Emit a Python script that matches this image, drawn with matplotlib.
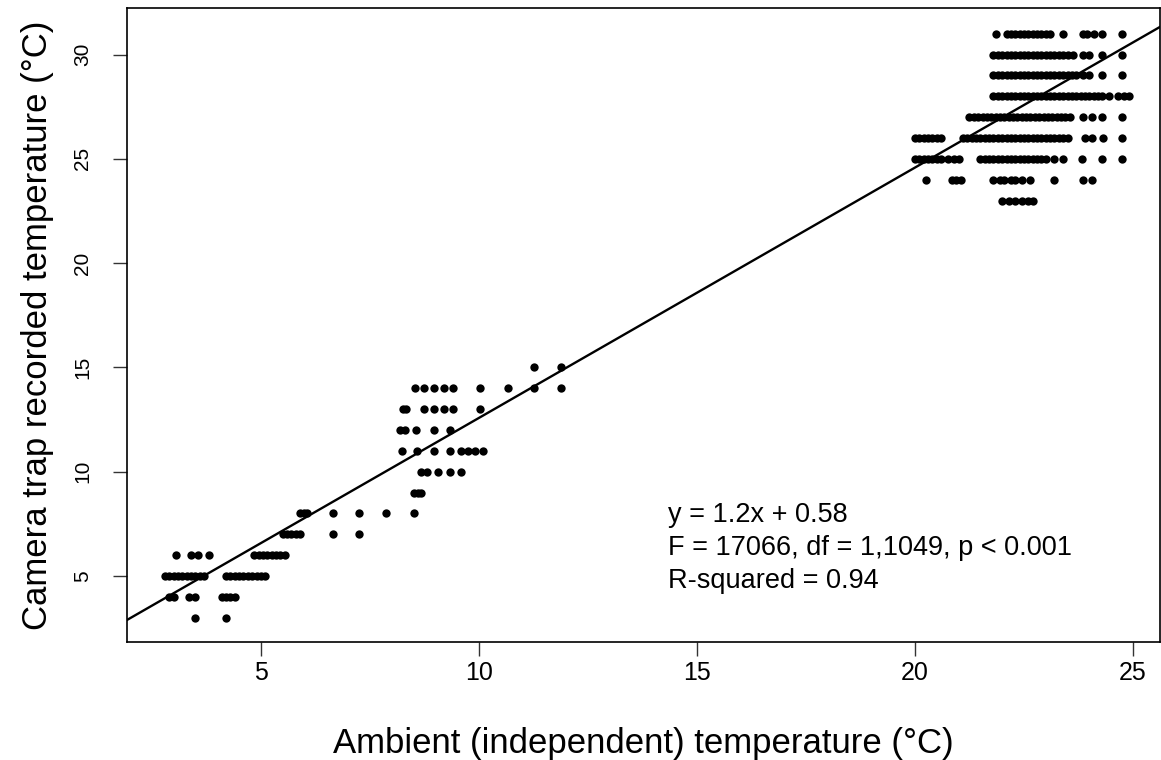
import matplotlib
matplotlib.use("Agg")
import matplotlib.pyplot as plt
import numpy as np
from matplotlib import font_manager

# ---- data: ambient temperature values for each recorded camera temperature ----
amb_at_3 = [3.5, 4.2]
amb_at_4 = [2.9, 3.0, 3.35, 3.5, 4.1, 4.2, 4.3, 4.4]
amb_at_5 = [2.8, 2.9, 3.0, 3.1, 3.2, 3.3, 3.4, 3.5, 3.6, 3.7,
            4.2, 4.3, 4.4, 4.5, 4.6, 4.7, 4.8, 4.9, 5.0, 5.1]
amb_at_6 = [3.05, 3.4, 3.55, 3.8, 4.85, 4.95, 5.05, 5.15, 5.25, 5.35, 5.45, 5.55]
amb_at_7 = [5.5, 5.6, 5.7, 5.8, 5.9, 6.65, 7.25]
amb_at_8 = [5.9, 6.0, 6.05, 6.65, 7.25, 7.88, 8.52]
amb_at_9 = [8.52, 8.6, 8.67]
amb_at_10 = [8.68, 8.8, 9.07, 9.33, 9.6]
amb_at_11 = [8.23, 8.57, 8.97, 9.33, 9.6, 9.76, 9.91, 10.1]
amb_at_12 = [8.2, 8.3, 8.56, 8.97, 9.33]
amb_at_13 = [8.25, 8.33, 8.73, 8.96, 9.19, 9.4, 10.03]
amb_at_14 = [8.53, 8.74, 8.97, 9.2, 9.4, 10.02, 10.66, 11.27, 11.88]
amb_at_15 = [11.26, 11.88]
amb_at_23 = [22.0, 22.15, 22.3, 22.45, 22.6, 22.7]
amb_at_24 = [20.25, 20.85, 20.95, 21.05, 21.8, 21.95, 22.05, 22.2, 22.3, 22.45,
             22.65, 23.2, 23.85, 24.05]
amb_at_25 = [20.0, 20.1, 20.2, 20.3, 20.4, 20.5, 20.6, 20.75, 20.9, 21.0,
             21.5, 21.6, 21.7, 21.8, 21.9, 22.0, 22.1, 22.2, 22.3, 22.4, 22.5,
             22.6, 22.7, 22.8, 22.9, 23.0, 23.2, 23.4, 23.82, 24.3, 24.75]
amb_at_26 = [20.0, 20.1, 20.2, 20.3, 20.4, 20.5, 20.6,
             21.1, 21.2, 21.3, 21.4, 21.5, 21.6, 21.7, 21.8, 21.9, 22.0, 22.1,
             22.2, 22.3, 22.4, 22.5, 22.6, 22.7, 22.8, 22.9, 23.0, 23.1, 23.2,
             23.3, 23.4, 23.5, 23.9, 24.05, 24.32, 24.76]
amb_at_27 = [21.25, 21.35, 21.45, 21.55, 21.65, 21.75, 21.85, 21.95, 22.05,
             22.15, 22.25, 22.35, 22.45, 22.55, 22.65, 22.75, 22.85, 22.95,
             23.05, 23.15, 23.25, 23.35, 23.45, 23.55, 23.85, 24.05, 24.3, 24.75]
amb_at_28 = [21.8, 21.9, 22.0, 22.1, 22.2, 22.3, 22.4, 22.5, 22.6, 22.7, 22.8,
             22.9, 23.0, 23.1, 23.2, 23.3, 23.4, 23.5, 23.6, 23.7, 23.8, 23.9,
             24.0, 24.1, 24.2, 24.3, 24.45, 24.65, 24.8, 24.9]
amb_at_29 = [21.8, 21.9, 22.0, 22.1, 22.2, 22.3, 22.4, 22.5, 22.6, 22.7, 22.8,
             22.9, 23.0, 23.1, 23.2, 23.3, 23.4, 23.5, 23.6, 23.7, 23.85, 24.0,
             24.3, 24.75]
amb_at_30 = [21.8, 21.9, 22.0, 22.1, 22.2, 22.3, 22.4, 22.5, 22.6, 22.7, 22.8,
             22.9, 23.0, 23.1, 23.2, 23.3, 23.4, 23.5, 23.63, 23.85, 24.0, 24.3,
             24.75]
amb_at_31 = [21.85, 22.1, 22.2, 22.3, 22.4, 22.5, 22.6, 22.7, 22.8, 22.9, 23.0,
             23.1, 23.4, 23.85, 23.95, 24.1, 24.3, 24.75]

camera_levels = [3, 4, 5, 6, 7, 8, 9, 10, 11, 12, 13, 14, 15,
                 23, 24, 25, 26, 27, 28, 29, 30, 31]
ambient_groups = [amb_at_3, amb_at_4, amb_at_5, amb_at_6, amb_at_7, amb_at_8,
                  amb_at_9, amb_at_10, amb_at_11, amb_at_12, amb_at_13,
                  amb_at_14, amb_at_15, amb_at_23, amb_at_24, amb_at_25,
                  amb_at_26, amb_at_27, amb_at_28, amb_at_29, amb_at_30,
                  amb_at_31]

fit_slope = 1.2
fit_intercept = 0.58

x_ticks = [5, 10, 15, 20, 25]
y_ticks = [5, 10, 15, 20, 25, 30]
annotation_lines = ["y = 1.2x + 0.58",
                    "F = 17066, df = 1,1049, p < 0.001",
                    "R-squared = 0.94"]

# ---- build point arrays ----
ambient = np.concatenate([np.asarray(g, float) for g in ambient_groups])
camera = np.concatenate([np.full(len(g), lvl, float)
                         for g, lvl in zip(ambient_groups, camera_levels)])

base_font = "Liberation Sans"
names = {f.name for f in font_manager.fontManager.ttflist}
narrow_font = "Liberation Sans Narrow" if "Liberation Sans Narrow" in names else base_font
plt.rcParams['font.family'] = [base_font, 'DejaVu Sans']

fig = plt.figure(figsize=(11.61, 7.60), dpi=100)
ax = fig.add_axes([127 / 1161, 1 - 642 / 760, (1160 - 127) / 1161, (642 - 8) / 760])

ax.plot(ambient, camera, linestyle='none', marker='o', markersize=6.0,
        color='black', markeredgewidth=0)

xlim = (1.93, 25.62)
ylim = (1.84, 32.23)
xs = np.array(xlim)
ax.plot(xs, fit_slope * xs + fit_intercept, color='black', linewidth=1.7)
ax.set_xlim(*xlim)
ax.set_ylim(*ylim)

ax.set_xticks(x_ticks)
ax.set_yticks(y_ticks)
ax.set_xticklabels([str(t) for t in x_ticks], family=[narrow_font, 'DejaVu Sans'],
                   fontsize=18)
ax.set_yticklabels([str(t) for t in y_ticks], rotation=90, va='center',
                   fontsize=15)
ax.tick_params(axis='both', direction='out', length=10, width=1, color='#333333')
ax.tick_params(axis='x', pad=4)
ax.tick_params(axis='y', pad=15)
for s in ax.spines.values():
    s.set_linewidth(1.2)

ax.set_xlabel("Ambient (independent) temperature (°C)", fontsize=25, labelpad=30)
ax.set_ylabel("Camera trap recorded temperature (°C)", fontsize=25, labelpad=14)

for i, line in enumerate(annotation_lines):
    ax.text(14.33, 7.92 - i * 1.58, line, fontsize=19.5, va='center', ha='left')

fig.savefig("out.png", dpi=100)
